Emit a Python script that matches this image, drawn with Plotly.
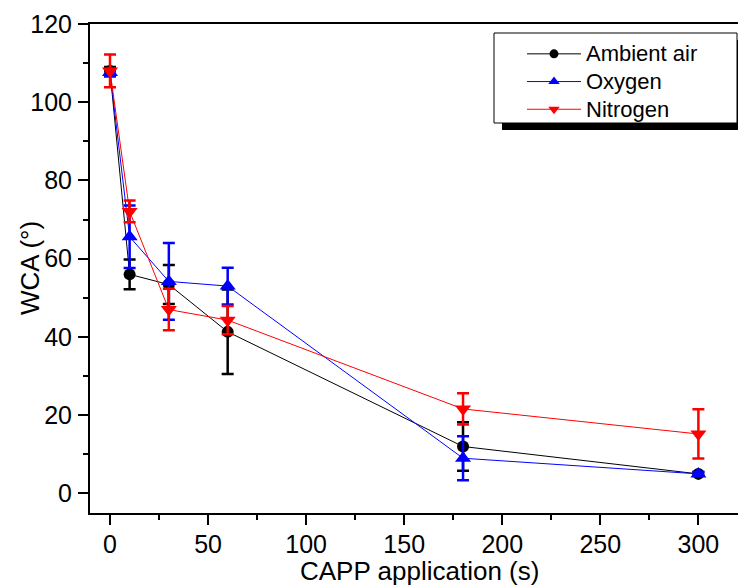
import plotly.graph_objects as go

# CAPP treatment time (s)
time_s = [0, 10, 30, 60, 180, 300]

# water contact angle (deg) and standard deviations
ambient_air = [108.0, 56.0, 53.4, 41.3, 12.0, 5.0]
ambient_air_err = [1.0, 3.8, 5.0, 10.8, 6.2, 0.5]

oxygen = [107.6, 65.6, 54.2, 53.0, 9.0, 5.0]
oxygen_err = [1.0, 8.0, 9.8, 4.7, 5.6, 0.5]

nitrogen = [108.0, 72.1, 47.0, 44.3, 21.6, 15.2]
nitrogen_err = [4.2, 2.8, 5.3, 3.6, 4.0, 6.3]

FONT = "Liberation Sans, Arial, sans-serif"

series = [
    ("Ambient air", ambient_air, ambient_air_err, "#000000", "circle", 12, 9),
    ("Oxygen", oxygen, oxygen_err, "#0000ff", "triangle-up", 14, 10),
    ("Nitrogen", nitrogen, nitrogen_err, "#ff0000", "triangle-down", 14, 10),
]

fig = go.Figure()
for name, values, errors, color, symbol, size, _ in series:
    fig.add_trace(
        go.Scatter(
            x=time_s,
            y=values,
            name=name,
            mode="lines+markers",
            line=dict(color=color, width=1),
            marker=dict(color=color, symbol=symbol, size=size),
            error_y=dict(type="data", array=errors, color=color, thickness=2.5, width=6),
            showlegend=False,
        )
    )

# legend entries with the smaller symbols used in the original key
for name, values, errors, color, symbol, _, lsize in series:
    fig.add_trace(
        go.Scatter(
            x=[None], y=[None], mode="lines+markers",
            name=f'<span style="font-size:22px">{name}</span>',
            line=dict(color=color, width=1),
            marker=dict(color=color, symbol=symbol, size=lsize),
        )
    )

W, H = 738, 587
L, R, T, B = 90, 0, 24, 74


def px_x(px):
    return (px - L) / (W - L - R)


def px_y(py):
    return 1 - (py - T) / (H - T - B)


# legend frame with its drop shadow
fig.add_shape(
    type="rect", xref="paper", yref="paper",
    x0=px_x(502), x1=px_x(746), y0=px_y(130), y1=px_y(40),
    fillcolor="black", line=dict(width=0), layer="above",
)
fig.add_shape(
    type="rect", xref="paper", yref="paper",
    x0=px_x(494), x1=px_x(737), y0=px_y(123), y1=px_y(33),
    fillcolor="white", line=dict(color="black", width=1), layer="above",
)

fig.add_annotation(
    text="WCA (°)", xref="paper", yref="paper",
    x=px_x(30), y=px_y(268), textangle=-90, showarrow=False,
    xanchor="center", yanchor="middle", font=dict(size=26),
)
fig.add_annotation(
    text="CAPP application (s)", xref="paper", yref="paper",
    x=px_x(419), y=px_y(571), showarrow=False,
    xanchor="center", yanchor="middle", font=dict(size=26),
)

axis_common = dict(
    showgrid=False, zeroline=False, automargin=False,
    showline=True, linecolor="black", linewidth=2,
    ticks="outside", ticklen=10, tickwidth=2, tickcolor="black",
    tickfont=dict(size=25),
)

fig.update_layout(
    width=W,
    height=H,
    margin=dict(l=L, r=R, t=T, b=B),
    plot_bgcolor="white",
    paper_bgcolor="white",
    font=dict(family=FONT, size=22, color="black"),
    showlegend=True,
    legend=dict(
        x=px_x(522), y=px_y(35), xanchor="left", yanchor="top",
        bgcolor="rgba(0,0,0,0)", borderwidth=0,
        font=dict(size=19), tracegroupgap=0, itemwidth=54,
    ),
    xaxis=dict(
        range=[-10.2, 320.2],
        tickvals=[0, 50, 100, 150, 200, 250, 300],
        mirror=True, ticklabelstandoff=-2,
        minor=dict(dtick=25, tick0=0, ticks="outside", ticklen=5, tickwidth=2, tickcolor="black"),
        **axis_common,
    ),
    yaxis=dict(
        range=[-5, 120],
        tickvals=[0, 20, 40, 60, 80, 100, 120],
        ticklabelstandoff=1,
        minor=dict(dtick=10, tick0=0, ticks="outside", ticklen=5, tickwidth=2, tickcolor="black"),
        **axis_common,
    ),
)

# drop the browser's default 8px body margin so the figure fills the window
fig.write_html(
    "out.html",
    config={"displayModeBar": False},
    post_script="document.body.style.margin='0';document.body.style.overflow='hidden';",
)
